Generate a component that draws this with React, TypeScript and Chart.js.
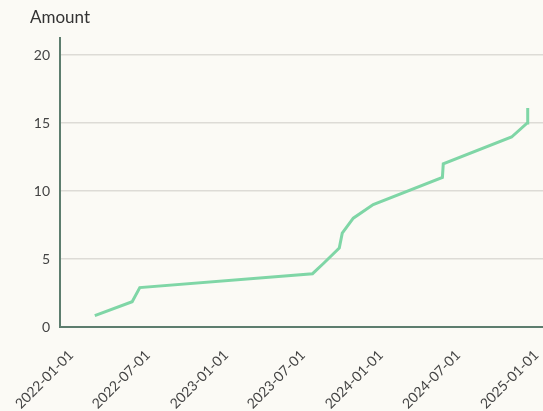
import React, { useEffect, useRef } from "react";
import { Chart, registerables } from "chart.js";

Chart.register(...registerables);

const dates = [
  "2022-02-26", "2022-05-25", "2022-06-12", "2023-07-24", "2023-08-18",
  "2023-09-25", "2023-10-02", "2023-10-28", "2023-12-14", "2024-05-25",
  "2024-05-27", "2024-11-04", "2024-12-11", "2024-12-12",
];
const amounts = [0.83, 1.86, 2.9, 3.92, 4.65, 5.8, 6.9, 8.0, 9.0, 11.0, 12.0, 13.97, 15.0, 16.1];
const xTickLabels = [
  "2022-01-01", "2022-07-01", "2023-01-01", "2023-07-01",
  "2024-01-01", "2024-07-01", "2025-01-01",
];
const xRange = ["2021-12-06", "2025-01-17"];
const yTickValues = [0, 5, 10, 15, 20];
const yTitle = "Amount";

const FONT = "Lato, 'Open Sans', sans-serif";

export default function App() {
  const ref = useRef<HTMLCanvasElement>(null);
  useEffect(() => {
    document.body.style.margin = "0";
    document.body.style.background = "#fbfaf5";
    const ctx = ref.current!;
    const titlePlugin = {
      id: "ytitle",
      afterDraw(chart: any) {
        const c = chart.ctx;
        const y = chart.scales.y;
        c.save();
        c.font = `17px ${FONT}`;
        c.fillStyle = "#333";
        c.textAlign = "center";
        c.textBaseline = "middle";
        c.fillText(yTitle, y.right, 18);
        c.restore();
      },
    };
    const chart = new Chart(ctx, {
      type: "line",
      data: {
        datasets: [
          {
            data: dates.map((d, i) => ({ x: Date.parse(d), y: amounts[i] })),
            borderColor: "#7fd6a6",
            borderWidth: 3,
            pointRadius: 0,
            tension: 0,
            fill: false,
          },
        ],
      },
      options: {
        animation: false,
        responsive: false,
        layout: { padding: { top: 38, right: 0, left: 0, bottom: 0 } },
        plugins: { legend: { display: false }, tooltip: { enabled: false } },
        scales: {
          x: {
            type: "linear",
            min: Date.parse(xRange[0]),
            max: Date.parse(xRange[1]),
            afterBuildTicks: (s: any) => {
              s.ticks = xTickLabels.map((t) => ({ value: Date.parse(t) }));
            },
            afterFit: (s: any) => {
              s.height = 84;
              s.paddingLeft = 0;
              s.paddingRight = 0;
            },
            grid: { display: false, drawTicks: false },
            border: { display: true, color: "#5d7d6e", width: 2 },
            ticks: {
              minRotation: 45,
              maxRotation: 45,
              padding: 20,
              color: "#444",
              font: { family: FONT, size: 14 },
              callback: (v: any) => new Date(v).toISOString().slice(0, 10),
            },
          },
          y: {
            type: "linear",
            min: 0,
            max: 21.25,
            afterBuildTicks: (s: any) => {
              s.ticks = yTickValues.map((v) => ({ value: v }));
            },
            afterFit: (s: any) => {
              s.width = 60;
              s.paddingTop = 0;
              s.paddingBottom = 0;
            },
            grid: { color: "#dddbd6", lineWidth: 1.5, drawTicks: false },
            border: { display: true, color: "#5d7d6e", width: 2 },
            ticks: {
              padding: 10,
              color: "#444",
              font: { family: FONT, size: 14 },
            },
          },
        },
      },
      plugins: [titlePlugin],
    });
    return () => chart.destroy();
  }, []);
  return (
    <div style={{ width: 543, height: 411, background: "#fbfaf5" }}>
      <canvas ref={ref} width={543} height={411} style={{ display: "block" }} />
    </div>
  );
}
